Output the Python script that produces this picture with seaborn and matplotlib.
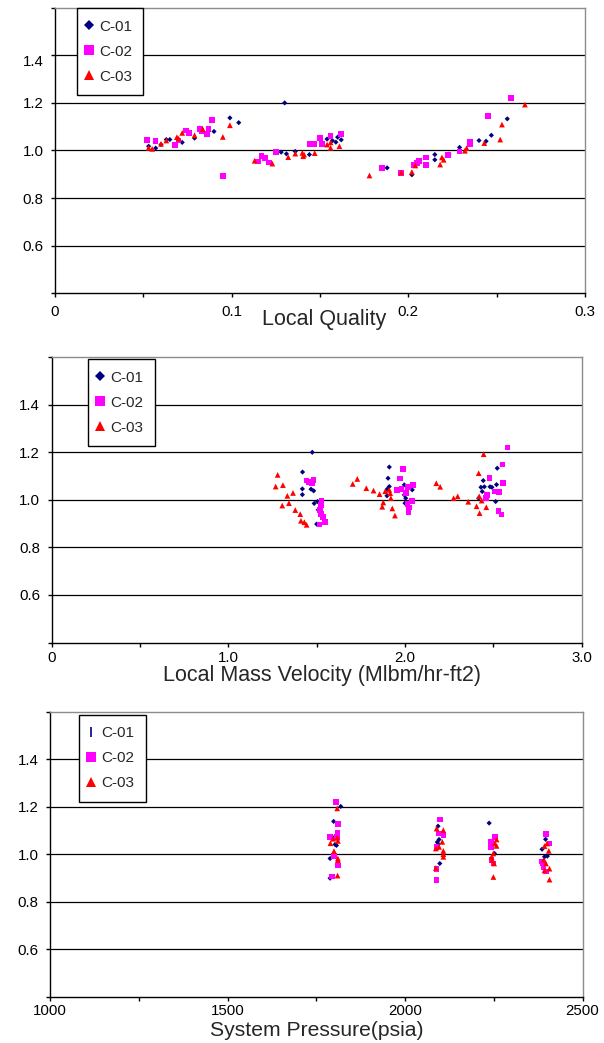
import numpy as np
import pandas as pd
import matplotlib
matplotlib.use('Agg')
import matplotlib.pyplot as plt
import matplotlib.transforms as mtransforms
from matplotlib.patches import Rectangle
import seaborn as sns
from matplotlib.lines import Line2D

sns.set_style('white')
plt.rcParams['font.family'] = ['Liberation Sans', 'DejaVu Sans']

series_names = ['C-01', 'C-02', 'C-03']
colors = {'C-01': '#000080', 'C-02': '#FF00FF', 'C-03': '#FF0000'}
markers = {'C-01': 'D', 'C-02': 's', 'C-03': '^'}
sizes = {'C-01': 7, 'C-02': 16, 'C-03': 17}

y_ticks = [0.4, 0.6, 0.8, 1.0, 1.2, 1.4, 1.6]
y_ticklabels = ['', '0.6', '0.8', '1.0', '1.2', '1.4', '']
grid_levels = [0.6, 0.8, 1.0, 1.2, 1.4]

# ---- Panel 1: Local Quality ----
q_c01_x = [0.053, 0.057, 0.060, 0.063, 0.065, 0.072, 0.079, 0.082, 0.090, 0.099, 0.104, 0.130, 0.128, 0.131, 0.136,
           0.144, 0.154, 0.157, 0.159, 0.160, 0.162, 0.188, 0.202, 0.215, 0.215, 0.223, 0.229, 0.240, 0.244, 0.247, 0.256]
q_c01_y = [1.018, 1.010, 1.025, 1.046, 1.046, 1.034, 1.052, 1.094, 1.080, 1.137, 1.117, 1.200, 0.993, 0.986, 0.996,
           0.983, 1.048, 1.042, 1.035, 1.056, 1.045, 0.927, 0.898, 0.983, 0.961, 0.985, 1.013, 1.042, 1.039, 1.064, 1.133]
q_c02_x = [0.052, 0.057, 0.068, 0.070, 0.074, 0.076, 0.082, 0.083, 0.086, 0.087, 0.089, 0.095, 0.115, 0.117, 0.119,
           0.121, 0.125, 0.144, 0.147, 0.150, 0.151, 0.156, 0.162, 0.185, 0.196, 0.203, 0.205, 0.206, 0.210, 0.210,
           0.2225, 0.229, 0.235, 0.235, 0.245, 0.258]
q_c02_y = [1.045, 1.041, 1.022, 1.042, 1.084, 1.073, 1.090, 1.083, 1.070, 1.091, 1.129, 0.892, 0.954, 0.978, 0.969,
           0.950, 0.994, 1.028, 1.028, 1.053, 1.028, 1.060, 1.070, 0.927, 0.906, 0.938, 0.948, 0.957, 0.971, 0.938,
           0.982, 0.996, 1.025, 1.035, 1.145, 1.220]
q_c03_x = [0.053, 0.055, 0.060, 0.063, 0.069, 0.070, 0.072, 0.079, 0.0836, 0.095, 0.099, 0.113, 0.123, 0.132, 0.136,
           0.140, 0.1405, 0.141, 0.147, 0.154, 0.156, 0.156, 0.161, 0.178, 0.196, 0.202, 0.204, 0.218, 0.219, 0.220,
           0.232, 0.233, 0.243, 0.252, 0.253, 0.266]
q_c03_y = [1.011, 1.007, 1.028, 1.042, 1.056, 1.050, 1.074, 1.064, 1.090, 1.057, 1.106, 0.957, 0.945, 0.972, 0.987,
           0.990, 0.976, 0.983, 0.989, 1.025, 1.034, 1.011, 1.018, 0.895, 0.908, 0.910, 0.937, 0.941, 0.971, 0.961,
           0.999, 1.010, 1.031, 1.046, 1.109, 1.193]

# ---- Panel 2: Local Mass Velocity ----
g_c01_x = [1.476, 1.421, 1.420, 1.420, 1.469, 1.484, 1.487, 1.506, 1.510, 1.501,
           1.912, 1.905, 1.912, 1.900, 1.899, 1.997, 2.005, 1.997, 2.042, 2.005, 2.001,
           2.444, 2.450, 2.431, 2.438, 2.482, 2.493, 2.523, 2.519, 2.514, 2.418]
g_c01_y = [1.200, 1.117, 1.046, 1.022, 1.045, 1.038, 0.985, 0.993, 0.958, 0.898,
           1.138, 1.091, 1.056, 1.045, 1.017, 1.063, 1.035, 1.021, 1.042, 1.007, 0.986,
           1.081, 1.055, 1.053, 1.035, 1.055, 1.053, 1.133, 1.064, 0.993, 1.007]
g_c02_x = [1.444, 1.459, 1.482, 1.476, 1.529, 1.525, 1.520, 1.524, 1.538, 1.548, 1.516,
           1.989, 1.974, 1.955, 1.982, 2.019, 2.046, 2.006, 2.042, 2.014, 2.023, 2.021,
           2.582, 2.553, 2.478, 2.557, 2.510, 2.534, 2.466, 2.459, 2.529, 2.548]
g_c02_y = [1.081, 1.074, 1.084, 1.070, 0.996, 0.979, 0.958, 0.940, 0.927, 0.906, 0.897,
           1.129, 1.090, 1.042, 1.045, 1.053, 1.062, 1.028, 0.996, 0.982, 0.968, 0.948,
           1.221, 1.148, 1.092, 1.071, 1.036, 1.032, 1.021, 1.007, 0.952, 0.938]
g_c03_x = [1.280, 1.269, 1.310, 1.367, 1.335, 1.344, 1.306, 1.380, 1.408, 1.412, 1.431, 1.444,
           1.731, 1.705, 1.782, 1.823, 1.857, 1.889, 1.912, 1.917, 1.921, 1.878, 1.872, 1.929, 1.944,
           2.178, 2.200, 2.276, 2.299, 2.359, 2.406, 2.423, 2.461, 2.446, 2.418, 2.421, 2.435]
g_c03_y = [1.105, 1.056, 1.062, 1.029, 1.017, 0.986, 0.976, 0.957, 0.940, 0.912, 0.906, 0.895,
           1.088, 1.067, 1.049, 1.039, 1.024, 1.036, 1.042, 1.028, 1.007, 0.989, 0.971, 0.964, 0.934,
           1.070, 1.055, 1.007, 1.015, 0.992, 0.973, 0.944, 0.969, 1.192, 1.112, 1.015, 0.997]

# ---- Panel 3: System Pressure ----
p_c01_x = [1819, 1799, 1802, 1803, 1807, 1789, 1789, 2093, 2096, 2091, 2093, 2098, 2091, 2237, 2252,
           2396, 2386, 2401, 2393]
p_c01_y = [1.201, 1.138, 1.073, 1.041, 1.037, 0.982, 0.899, 1.118, 1.062, 1.051, 1.042, 0.961, 1.024, 1.131, 1.003,
           1.063, 1.021, 0.992, 0.989]
p_c02_x = [1805, 1811, 1810, 1788, 1809, 1800, 1811, 1795, 2098, 2096, 2108, 2089, 2089, 2089,
           2253, 2242, 2242, 2244, 2249, 2397, 2407, 2385, 2390, 2397, 2388]
p_c02_y = [1.220, 1.128, 1.090, 1.072, 1.073, 0.993, 0.952, 0.906, 1.146, 1.087, 1.082, 1.031, 0.937, 0.892,
           1.073, 1.052, 1.031, 0.975, 0.961, 1.085, 1.045, 0.970, 0.946, 0.928, 0.961]
p_c03_x = [1809, 1797, 1809, 1790, 1811, 1800, 1811, 1811, 1810, 2089, 2108, 2105, 2087, 2096, 2108, 2108, 2108, 2087,
           2258, 2253, 2258, 2249, 2246, 2251, 2249, 2244, 2393, 2400, 2405, 2391, 2397, 2407, 2393, 2407]
p_c03_y = [1.193, 1.065, 1.069, 1.046, 1.056, 1.013, 0.982, 0.975, 0.910, 1.108, 1.101, 1.052, 1.024, 1.031, 1.014,
           1.000, 0.989, 0.942, 1.062, 1.045, 1.035, 1.003, 0.975, 0.961, 0.904, 0.989, 1.034, 1.045, 1.014, 0.977,
           0.961, 0.939, 0.932, 0.893]


def make_df(xs, ys):
    frames = []
    for name, x, y in zip(series_names, xs, ys):
        frames.append(pd.DataFrame({'x': x, 'y': y, 'series': name}))
    return pd.concat(frames, ignore_index=True)


def style_axes(ax, xlim, major, minor, xlabels, xpad):
    ax.set_xlim(*xlim)
    ax.set_ylim(0.4, 1.6)
    ax.set_xticks(major)
    ax.set_xticks(minor, minor=True)
    ax.set_xticklabels(xlabels)
    ax.set_yticks(y_ticks)
    ax.set_yticklabels(y_ticklabels)
    for lvl in grid_levels:
        ax.axhline(lvl, color='black', lw=0.9, zorder=0)
    for s in ['left', 'bottom']:
        ax.spines[s].set_color('black')
        ax.spines[s].set_linewidth(1.0)
    for s in ['top', 'right']:
        ax.spines[s].set_color('#8c8c8c')
        ax.spines[s].set_linewidth(1.0)
        ax.spines[s].set_visible(True)
    ax.tick_params(axis='both', which='both', direction='out', length=3, width=1,
                   color='black', labelsize=10.8, labelcolor='black')
    ax.tick_params(axis='x', which='both', pad=xpad, bottom=True)
    ax.tick_params(axis='y', which='both', pad=5.3, left=True)
    ax.set_xlabel('')
    ax.set_ylabel('')


def add_legend(ax, anchor, first_marker='D'):
    handles = [
        Line2D([], [], linestyle='none', marker=first_marker, color=colors['C-01'],
               markersize=5 if first_marker == 'D' else 7, markeredgewidth=1.2 if first_marker == '|' else 0),
        Line2D([], [], linestyle='none', marker='s', color=colors['C-02'], markersize=7, markeredgewidth=0),
        Line2D([], [], linestyle='none', marker='^', color=colors['C-03'], markersize=7, markeredgewidth=0),
    ]
    leg = ax.legend(handles, series_names, loc='upper left', bbox_to_anchor=anchor,
                    frameon=True, fancybox=False, edgecolor='black', framealpha=1,
                    borderaxespad=0, fontsize=11, handlelength=0.1, handletextpad=0.6,
                    labelspacing=0.72, borderpad=0.75)
    leg.get_frame().set_linewidth(1.0)


fig = plt.figure(figsize=(6.04, 10.43), dpi=100)
W, H = 604, 1043
ax1 = fig.add_axes([55 / W, 1 - 293.3 / H, 530 / W, 285.6 / H])
ax2 = fig.add_axes([51.5 / W, 1 - 642.5 / H, 530 / W, 285.3 / H])
ax3 = fig.add_axes([50 / W, 1 - 996.7 / H, 532.5 / W, 285 / H])

panels = [
    (ax1, make_df([q_c01_x, q_c02_x, q_c03_x], [q_c01_y, q_c02_y, q_c03_y]),
     (0, 0.3), [0, 0.1, 0.2, 0.3], [0.05, 0.15, 0.25], ['0', '0.1', '0.2', '0.3'],
     (0.041, 0.998), 'D', 5.4),
    (ax2, make_df([g_c01_x, g_c02_x, g_c03_x], [g_c01_y, g_c02_y, g_c03_y]),
     (0, 3.0), [0, 1.0, 2.0, 3.0], [0.5, 1.5, 2.5], ['0', '1.0', '2.0', '3.0'],
     (0.0687, 0.993), 'D', 3.0),
    (ax3, make_df([p_c01_x, p_c02_x, p_c03_x], [p_c01_y, p_c02_y, p_c03_y]),
     (1000, 2500), [1000, 1500, 2000, 2500], [1250, 1750, 2250], ['1000', '1500', '2000', '2500'],
     (0.0545, 0.9895), '|', 2.5),
]

for ax, df, xlim, major, minor, labels, anchor, fm, xpad in panels:
    sns.scatterplot(data=df, x='x', y='y', hue='series', style='series', size='series',
                    palette=colors, markers=markers, sizes=sizes, linewidth=0,
                    legend=False, ax=ax, zorder=3)
    style_axes(ax, xlim, major, minor, labels, xpad)
    add_legend(ax, anchor, fm)

# the reference draws panel 1's "1.4" label slightly below its gridline
lbl14 = ax1.get_yticklabels()[5]
lbl14.set_transform(lbl14.get_transform() + mtransforms.ScaledTranslation(0, -5 / 100, fig.dpi_scale_trans))

fig.text(324 / W, 1 - 319 / H, 'Local Quality', ha='center', va='center', fontsize=15.5)
t2 = fig.text(322 / W, 1 - 676 / H, 'Local Mass Velocity (Mlbm/hr-ft2)', ha='center', va='center', fontsize=15.5)
clip = Rectangle((0, 1 - 687 / H), 1, 687 / H, transform=fig.transFigure, visible=False)
fig.add_artist(clip)
t2.set_clip_path(clip)
t2.set_clip_on(True)
fig.text(316.5 / W, 1 - 1030 / H, 'System Pressure(psia)', ha='center', va='center', fontsize=15.2)

fig.savefig('out.png', dpi=100, facecolor='white')
